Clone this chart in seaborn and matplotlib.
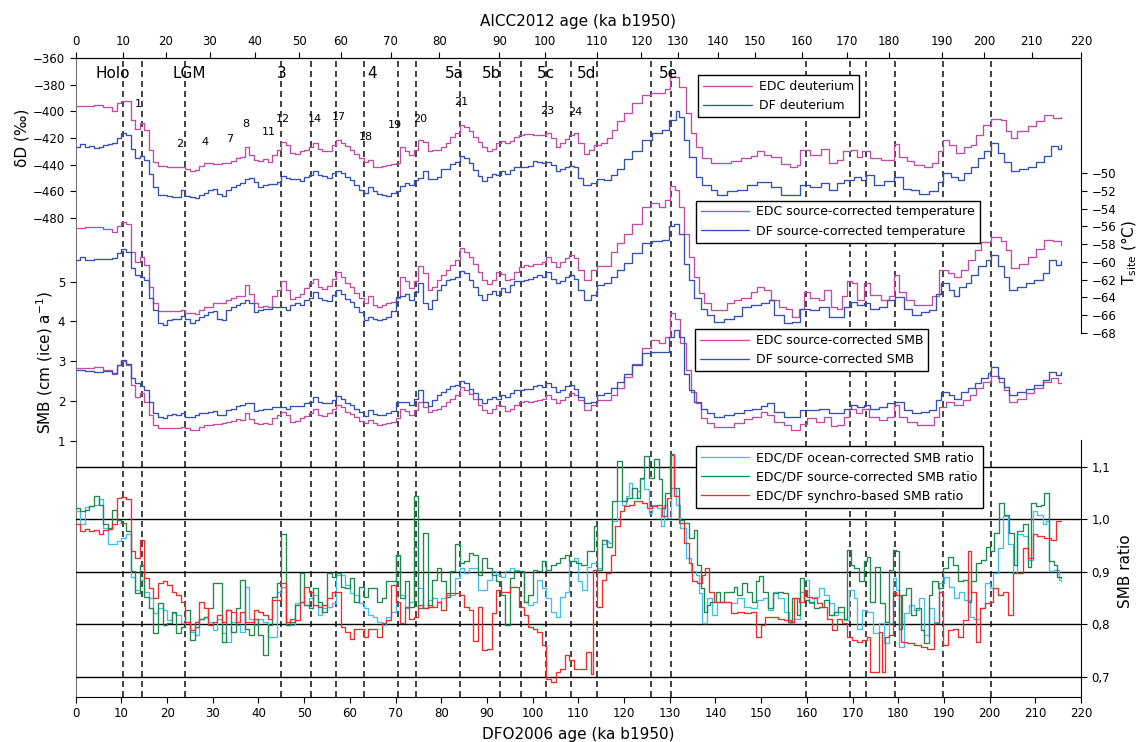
import numpy as np
import seaborn as sns
import matplotlib.pyplot as plt

# ---------------- data (ages in ka b1950, DFO2006 scale) ----------------
edc_dd_age = [0, 2, 4, 6, 8, 9, 10, 11, 12, 13, 14, 15, 16, 17, 18, 20, 22, 24, 25, 26, 27, 28, 30, 32, 34, 35, 36,
              37, 38, 39, 40, 41, 42, 43, 44, 45, 46, 47, 48, 49, 50, 51, 52, 53, 54, 55, 56, 57, 58, 59, 60,
              61, 62, 63, 64, 65, 66, 67, 68, 69, 70, 71, 72, 73, 74, 75, 76, 77, 78, 80, 81, 82, 83, 84, 85,
              86, 87, 88, 89, 90, 91, 92, 93, 94, 95, 96, 97, 98, 100, 102, 103, 104, 105, 106, 107, 108, 109,
              110, 111.2, 112.3, 113.4, 114.9, 116.3, 117.4, 118.5, 120, 121.8, 124, 126, 127.9, 129, 130, 130.9,
              132, 133.5, 134.6, 135.7, 137.1, 139, 141.1, 143.3, 145.5, 147.7, 149.2, 150.6, 152.1, 154.3, 156.4,
              157.9, 158.6, 160.8, 163, 164.8, 166.7, 168, 169.6, 171, 172.1, 173.9, 176.2, 177.9, 179, 180.2,
              182, 183.5, 185.7, 187.5, 188.6, 189.7, 191.1, 192.6, 194.5, 195.9, 197, 198.5, 200.3, 202.5,
              203.6, 204.7, 206.1, 208.3, 210.1, 212, 213.8, 215.6]
edc_dd = [-396, -396, -395.5, -396.5, -399.5, -394, -392, -392, -406.5, -413.5, -409, -414, -429, -438, -441,
          -441.5, -441.5, -443, -444.5, -444, -441, -439, -439.5, -439, -437, -435, -434,
          -427, -433, -436.5, -437, -436, -438, -433, -429, -423, -425, -431.5, -432, -430, -429, -427, -423.5,
          -428, -429.5, -429.5, -425, -421.5, -423.5, -426, -429,
          -432, -435, -438, -436.5, -441.5, -442, -441, -440, -439.5, -438.5, -427, -430, -433, -429, -421.5,
          -423, -430, -429, -426.5, -423.5, -419, -416.5, -410, -411.5,
          -415, -419, -423, -426.5, -429.5, -428, -424, -422, -424, -422, -419, -418, -417, -418, -418, -416,
          -420, -427, -424, -421, -418, -416.5,
          -424, -432, -429, -425, -423.5, -420, -414, -407.5, -401.5, -394, -388, -386, -386, -383, -374, -374,
          -381.5, -401.5, -416.5, -426.5, -435, -438.5, -438.5, -437, -435, -433.5, -430, -432.5, -434.5, -439.5,
          -441.5,
          -440, -429, -432.5, -428.5, -438.5, -436.5, -430, -429, -434.5, -430, -435, -436.5, -436.5, -424.5,
          -434.5,
          -437.5, -440, -441.5, -438.5, -430, -421.5, -425, -431.5, -426.5, -425, -417.5, -410, -406, -406.5,
          -415, -420, -414.5, -411, -407.5, -402.5, -405, -404.5]

df_dd_age = list(range(0, 111)) + [
    111, 112.7, 114.1, 115.6, 117.1, 118.5, 120, 121.8, 124, 126.2, 128.4, 129.8, 131.3, 132, 133.1, 134.2,
    135.7, 137.1, 139, 140.4, 142.6, 144.8, 147, 149.2, 150.6, 152.1, 154.3, 156.4, 158.6, 160.8, 163, 164.8,
    166.7, 168.1, 170.3, 171.8, 172.9, 174.7, 176.9, 179.1, 181, 182.8, 184.6, 186.8, 188.6, 189.7, 191.5,
    193, 194.5, 195.9, 197.4, 198.8, 200.4, 201.8, 203.2, 204.7, 206.5, 208.3, 210.1, 212, 213.4, 214.9, 215.6]
df_dd = [-426.5, -424.5, -427, -426, -427.5, -426.5, -425.5, -424.5, -424, -420,
         -416.5, -418, -428, -435, -433.5, -436.5, -447, -456.5, -463, -463,
         -463.5, -464, -464.5, -459, -463.5, -464.5, -465, -463, -461, -459,
         -458.5, -462, -463.5, -459, -457, -455, -453.5, -451, -450, -453,
         -456.5, -455, -454.5, -454.5, -453, -448.5, -450, -451, -451, -452,
         -449.5, -448, -445, -448, -448.5, -450, -446.5, -445, -446.5, -449,
         -451.5, -455, -459, -461.5, -456.5, -460, -462, -463, -463.5, -461.5,
         -460, -456, -454, -455, -451.5, -450, -445, -451, -451, -449,
         -443.5, -443, -439.5, -438, -433.5, -435, -438.5, -444, -448.5, -452,
         -449.5, -447, -448, -445, -447, -444, -442, -441.5, -442, -441,
         -437, -438, -438.5, -438, -440, -445, -443.5, -441.5, -441, -442,
         -450,
         -455, -454, -451, -451.5, -448, -443, -436, -430, -421.5, -416.5, -414, -406.5, -400, -404, -421.5,
         -434, -449, -455, -459, -463, -459.5, -459, -455, -453, -453, -456.5, -463, -463, -455, -456.5, -454,
         -459, -454, -451.5, -449.5, -451.5, -448, -455, -452, -449, -458, -459, -462, -459.5, -453, -446.5,
         -449, -451.5, -446.5, -441.5, -435, -430, -423.5, -431.5, -438, -445, -443.5, -441.5, -438, -433.5,
         -426, -428, -425]

edc_t_age = [0, 2, 4, 6, 8, 9, 10, 11, 12, 13, 14, 15, 16, 17, 18, 20, 22, 23, 24, 26, 27, 28, 30, 32, 33, 34,
             35, 36] + list(range(37, 111)) + [
    111.2, 112.7, 114.1, 115.6, 117.1, 118.5, 120, 121.8, 124, 125.8, 127.6, 129, 130.1, 131.2, 132, 133.1,
    134.2, 135.3, 136.4, 137.5, 139, 141.1, 142.6, 144.1, 145.5, 147.7, 149.2, 150.6, 152.1, 153.9, 155.4,
    156.8, 158.3, 159.4, 160.8, 162.6, 163.7, 165.2, 166.7, 167.7, 168.8, 169.9, 171, 172.5, 173.9, 176.2,
    177.9, 179, 180.2, 181.7, 183.5, 185.7, 187.5, 188.9, 190.8, 192.3, 193.7, 195.2, 196.7, 198.1, 200.3,
    202.5, 203.6, 204.7, 206.5, 208.3, 210.1, 212, 213.8, 215.6]
edc_t = [-56.2, -56.1, -56.1, -56.3, -56.6, -55.9, -55.5, -55.7, -58.9, -60.0, -59.4, -60.4, -62.8, -64.7,
         -65.6, -65.6, -65.5, -65.4, -65.8, -65.9, -65.4, -65.1, -64.7, -64.6, -64.3, -64.1, -63.9, -63.9,
         -62.6, -63.6, -64.7, -65.1, -65.0, -65.1, -63.9, -63.2, -62.2, -63.2,
         -64.2, -64.0, -63.6, -63.0, -62.4, -61.9, -62.8, -63.1, -62.7, -61.9,
         -61.1, -61.7, -62.4, -62.8, -63.5, -64.1, -64.6, -63.9, -64.9, -65.1,
         -64.9, -64.7, -64.5, -64.1, -61.7, -62.2, -63.0, -62.2, -60.5, -61.3,
         -63.2, -62.8, -62.1, -61.5, -60.9, -60.4, -59.8, -58.4, -58.9, -59.4,
         -60.2, -61.1, -62.1, -62.5, -62.0, -61.2, -61.4, -62.1, -61.9, -61.1,
         -60.6, -60.3, -60.5, -60.2, -60.2, -60.0, -59.4, -60.0, -60.6, -60.0,
         -59.6, -59.2, -59.6, -60.9,
         -62.0, -60.9, -60.5, -60.5, -58.9, -57.9, -56.8, -55.7, -53.8, -53.4, -53.8, -53.0, -51.4, -51.9,
         -53.8, -56.8, -59.4, -61.7, -63.5, -64.7, -65.4, -65.4, -64.7, -64.3, -64.1, -63.4, -62.8, -63.2,
         -64.3, -65.1, -65.3, -66.2, -65.3, -63.4, -64.1, -64.3, -63.2, -65.1, -65.3, -63.9, -62.2, -62.4,
         -64.3, -62.4, -63.7, -64.3, -63.9, -61.5, -63.4, -64.3, -64.9, -64.9, -63.9, -60.9, -61.3, -61.7,
         -60.9, -59.8, -58.7, -57.8, -57.2, -57.7, -58.7, -60.7, -60.2, -59.4, -58.5, -57.5, -57.7, -58.1]

df_t_age = [0, 1, 2, 4, 6] + list(range(8, 111)) + [
    111.2, 112.7, 114.1, 115.6, 117.1, 118.5, 120, 121.8, 124, 126.2, 128.4, 129.8, 130.9, 132, 133.1, 134.2,
    135.3, 136.8, 138.2, 139.7, 141.9, 144.1, 145.9, 147.7, 149.9, 151.7, 152.8, 155, 156.8, 158.6, 160.8,
    162.6, 164.8, 166.7, 168.1, 169.6, 171, 172.5, 173.9, 175.8, 177.6, 179.4, 181.3, 183.1, 184.9, 186.8,
    188.2, 189.3, 191.1, 192.3, 193.4, 194.8, 195.9, 197.4, 199.2, 200.4, 201.8, 203.2, 204.3, 206.1, 207.9,
    209.8, 211.6, 213.1, 214.5, 215.6]
df_t = [-59.8, -59.4, -59.8, -59.7, -59.7,
        -59.6, -59.0, -58.6, -58.9, -60.7, -61.5, -61.7, -62.1, -64.1, -65.4,
        -66.9, -67.1, -66.6, -66.4, -66.5, -66.1, -66.5, -66.9, -66.6, -66.2,
        -66.0, -65.7, -65.6, -66.5, -66.6, -65.4, -65.1, -64.9, -64.6, -64.3,
        -64.7, -65.7, -65.4, -65.3, -65.3, -65.1, -65.1, -65.1, -65.4, -64.9,
        -64.7, -64.9, -64.3, -64.1, -63.4, -64.1, -64.3, -64.4, -63.8, -63.2,
        -63.6, -64.2, -64.5, -65.1, -65.7, -66.6, -66.2, -66.4, -66.6, -66.5,
        -66.2, -65.6, -64.0, -63.9, -63.6, -64.3, -63.4, -62.4, -64.7, -65.3,
        -64.3, -63.2, -62.6, -62.1, -61.9, -61.7, -61.0, -61.3, -62.1, -62.8,
        -63.8, -64.3, -63.6, -63.3, -63.8, -63.0, -63.4, -62.6, -62.2, -62.2,
        -62.1, -61.9, -61.7, -61.5, -61.7, -61.2, -61.9, -62.4, -62.2, -61.7,
        -61.5, -61.9, -63.2,
        -64.3, -63.7, -62.6, -62.4, -61.7, -60.9, -60.1, -59.0, -57.9, -57.7, -57.5, -56.0, -55.7, -56.8,
        -60.2, -62.1, -64.1, -65.3, -66.0, -66.8, -66.5, -66.1, -65.1, -64.9, -64.7, -64.3, -66.0, -66.9,
        -66.8, -65.3, -65.4, -65.1, -66.2, -66.2, -65.1, -64.5, -64.9, -64.7, -65.3, -65.1, -64.3, -64.0,
        -65.3, -66.0, -65.7, -65.4, -63.6, -62.4, -63.2, -63.9, -62.8, -62.4, -61.5, -60.5, -59.8, -59.2,
        -60.5, -61.7, -63.2, -62.8, -62.4, -62.1, -61.3, -59.8, -60.4, -59.9]

edc_smb_age = [0, 2, 4, 6, 8, 9, 10, 11, 12, 13, 14, 15, 16, 17, 18, 20, 22, 23, 24, 25, 26, 27, 28, 30] + \
    list(range(32, 111)) + [
    111.2, 112.7, 114.1, 115.6, 117.1, 118.5, 120, 121.8, 124, 125.8, 127.6, 129, 130.1, 131.2, 132.3, 133.5,
    134.6, 135.7, 136.8, 138.2, 139.7, 141.9, 144.1, 146.3, 148.1, 149.9, 151.3, 152.8, 155, 156.5, 158.6,
    160.1, 161.9, 163.7, 165.2, 166.7, 168.1, 169.2, 170.7, 172.1, 173.6, 175.8, 177.6, 179.1, 180.2, 182,
    184.2, 186.1, 187.9, 189, 190.4, 192.3, 194.1, 195.6, 197, 198.5, 200.3, 202.1, 203.2, 204.3, 206.1,
    207.9, 209.8, 211.6, 213.4, 214.9, 215.6]
edc_smb = [2.82, 2.84, 2.86, 2.79, 2.69, 2.90, 3.01, 2.90, 2.40, 2.10, 2.19, 1.98, 1.64, 1.39, 1.31, 1.31,
           1.33, 1.34, 1.31, 1.28, 1.27, 1.35, 1.39, 1.42,
           1.44, 1.48, 1.50, 1.54, 1.52, 1.69, 1.54, 1.44, 1.42, 1.44,
           1.42, 1.56, 1.64, 1.73, 1.64, 1.48, 1.50, 1.56, 1.62, 1.69,
           1.79, 1.64, 1.62, 1.69, 1.81, 1.90, 1.84, 1.73, 1.67, 1.59,
           1.50, 1.44, 1.52, 1.44, 1.39, 1.42, 1.45, 1.48, 1.56, 1.81,
           1.75, 1.64, 1.77, 1.98, 1.85, 1.73, 1.77, 1.81, 1.87, 1.98,
           2.06, 2.15, 2.36, 2.27, 2.17, 2.06, 1.90, 1.77, 1.70, 1.79,
           1.90, 1.87, 1.75, 1.79, 1.90, 1.98, 2.00, 1.98, 2.00, 2.02,
           2.04, 2.15, 2.06, 1.94, 2.02, 2.09, 2.19, 2.15, 2.02,
           1.77, 1.90, 2.02, 2.02, 2.15, 2.32, 2.61, 2.94, 3.32, 3.53, 3.46, 3.61, 4.20, 4.07, 3.45, 2.78,
           2.23, 1.94, 1.56, 1.44, 1.35, 1.35, 1.45, 1.54, 1.60, 1.73, 1.65, 1.48, 1.39, 1.27, 1.42,
           1.56, 1.48, 1.60, 1.37, 1.39, 1.60, 1.79, 1.69, 1.81, 1.60, 1.52, 1.60, 1.90, 1.60, 1.48,
           1.39, 1.39, 1.60, 1.86, 1.98, 1.90, 2.02, 2.15, 2.32, 2.48, 2.63, 2.48, 2.27, 1.98, 2.06,
           2.21, 2.32, 2.48, 2.57, 2.44, 2.44]

df_smb_age = [0, 2, 4, 6] + list(range(8, 111)) + [
    111.2, 112.7, 114.1, 115.6, 117.1, 118.5, 120, 121.8, 124, 125.8, 128, 129.8, 130.9, 132, 133.1, 134.2,
    135.3, 136.8, 138.2, 139.7, 141.9, 144.1, 146.3, 148.1, 149.9, 151.3, 152.8, 155, 156.8, 158.6, 160.8,
    162.6, 164.8, 166.7, 168.1, 169.6, 171, 172.5, 173.9, 175.8, 177.6, 179.4, 181.3, 183.1, 184.9, 186.8,
    188.2, 189.3, 191.1, 192.3, 193.7, 195.2, 196.7, 198.1, 199.6, 200.4, 201.8, 203.2, 204.3, 206.1, 207.9,
    209.8, 211.6, 213.1, 214.5, 215.6]
df_smb = [2.77, 2.76, 2.73, 2.76,
          2.71, 2.90, 3.04, 2.93, 2.57, 2.44, 2.37, 2.27, 1.98, 1.69,
          1.59, 1.56, 1.64, 1.67, 1.64, 1.70, 1.60, 1.59, 1.64, 1.69,
          1.69, 1.73, 1.75, 1.64, 1.64, 1.77, 1.81, 1.87, 1.90, 1.94,
          1.94, 1.75, 1.77, 1.81, 1.81, 1.84, 1.85, 1.84, 1.79, 1.87,
          1.87, 1.87, 1.94, 1.98, 2.09, 1.98, 1.94, 1.94, 2.02, 2.12,
          2.04, 1.94, 1.90, 1.81, 1.73, 1.62, 1.77, 1.67, 1.64, 1.64,
          1.69, 1.75, 1.98, 1.98, 1.98, 1.90, 2.06, 2.27, 1.98, 1.87,
          2.02, 2.15, 2.23, 2.31, 2.37, 2.40, 2.51, 2.44, 2.31, 2.19,
          2.04, 1.94, 2.06, 2.10, 2.04, 2.15, 2.09, 2.19, 2.27, 2.27,
          2.29, 2.31, 2.37, 2.40, 2.36, 2.46, 2.36, 2.23, 2.27, 2.37,
          2.40, 2.31, 2.10,
          1.94, 1.98, 2.15, 2.19, 2.32, 2.48, 2.69, 2.90, 3.20, 3.24, 3.24, 3.61, 3.78, 3.61, 2.69, 2.27,
          1.98, 1.81, 1.69, 1.60, 1.65, 1.70, 1.77, 1.81, 1.87, 1.94, 1.73, 1.60, 1.60, 1.77, 1.77,
          1.81, 1.69, 1.69, 1.81, 1.90, 1.86, 1.90, 1.81, 1.84, 1.94, 1.98, 1.77, 1.69, 1.73, 1.77,
          2.02, 2.23, 2.15, 2.06, 2.23, 2.32, 2.44, 2.57, 2.71, 2.86, 2.57, 2.36, 2.15, 2.23, 2.29,
          2.40, 2.52, 2.73, 2.65, 2.73]

ocean_age = list(range(0, 111)) + [
    110.8, 111.9, 112.8, 114.1, 115.2, 116, 116.7, 117.4, 118.5, 119.6, 120.4, 121.1, 121.8, 122.9, 123.6,
    124.4, 125.4, 126.2, 127.3, 128, 128.7, 129.4, 130.2, 131.3, 132.3, 133.5, 134.6, 135.7, 136.4, 137.1,
    138.2, 139.2, 140.4, 141.9, 143.3, 144.8, 146.3, 147.7, 149.2, 150.3, 151.4, 152.5, 153.6, 155, 156.1,
    157.2, 158.6, 159.4, 160.5, 161.5, 162.6, 163.7, 164.8, 165.9, 166.9, 168.1, 169.2, 170.3, 171, 172.1,
    173.2, 174.4, 175.8, 176.9, 178, 178.8, 179.5, 180.2, 181.3, 182.4, 183.5, 184.6, 185.7, 186.8, 187.9,
    189, 190.1, 191.1, 192.3, 193.4, 194.5, 195.6, 196.6, 197.8, 198.9, 200, 200.7, 201.8, 202.9, 204,
    205.1, 206.1, 207.2, 208.3, 209.4, 210.4, 211.6, 212.3, 213.1, 214.1, 215.2, 215.7]
ocean_ratio = [1.015, 0.990, 1.023, 1.025, 1.028, 1.038, 0.983, 0.952, 0.952, 0.958,
               0.964, 0.971, 0.891, 0.866, 0.885, 0.862, 0.850, 0.821, 0.831, 0.827,
               0.808, 0.821, 0.818, 0.802, 0.805, 0.786, 0.780, 0.811, 0.815, 0.805,
               0.789, 0.811, 0.783, 0.767, 0.805, 0.799, 0.786, 0.872, 0.811, 0.799,
               0.811, 0.805, 0.776, 0.776, 0.862, 0.872, 0.799, 0.799, 0.840, 0.843,
               0.837, 0.850, 0.856, 0.818, 0.831, 0.834, 0.840, 0.894, 0.894, 0.875,
               0.859, 0.856, 0.840, 0.831, 0.818, 0.815, 0.805, 0.799, 0.815, 0.824,
               0.932, 0.856, 0.831, 0.843, 0.948, 0.869, 0.831, 0.847, 0.850, 0.843,
               0.850, 0.856, 0.856, 0.888, 0.907, 0.897, 0.907, 0.907, 0.866, 0.866,
               0.885, 0.901, 0.894, 0.891, 0.901, 0.907, 0.904, 0.901, 0.843, 0.837,
               0.843, 0.885, 0.869, 0.850, 0.824, 0.815, 0.853, 0.862, 0.920, 0.926,
               0.882,
               0.866, 0.910, 0.917, 0.907, 0.952, 0.958, 0.955, 0.996, 1.034, 1.028, 1.044, 1.069, 1.041, 1.053,
               1.076, 1.057, 1.012, 1.028, 1.022, 0.987, 1.028, 1.003, 1.060, 1.028, 0.983, 0.926, 0.901, 0.894,
               0.859, 0.802, 0.850, 0.818, 0.843, 0.843, 0.840, 0.850, 0.834, 0.831, 0.847, 0.850, 0.828, 0.862,
               0.850, 0.824, 0.802, 0.811, 0.862, 0.885, 0.840, 0.853, 0.869, 0.856, 0.840, 0.818, 0.824, 0.808,
               0.866, 0.850, 0.792, 0.827, 0.824, 0.783, 0.802, 0.764, 0.802, 0.888, 0.866, 0.757, 0.821, 0.837,
               0.827, 0.850, 0.780, 0.831, 0.805, 0.878, 0.891, 0.872, 0.850, 0.862, 0.847, 0.815, 0.811, 0.831,
               0.878, 0.869, 0.897, 0.945, 1.006, 0.952, 0.897, 0.971, 0.968, 0.923, 1.015, 1.009, 0.990, 0.996,
               0.901, 0.904, 0.885, 0.882]

source_age = list(range(0, 109)) + [
    109.4, 110.5, 111.9, 113.4, 114.1, 115.2, 116.3, 117.4, 118.5, 119.6, 120.7, 121.8, 122.9, 123.6, 124.4,
    125.4, 126.5, 127.6, 128.3, 129, 130.1, 130.9, 132, 133.1, 134.2, 135.3, 136, 136.8, 137.5, 138.2,
    138.9, 140.1, 141.1, 141.9, 143, 144.1, 144.8, 145.9, 147, 148.1, 148.8, 149.6, 150.3, 151.4, 152.5,
    153.6, 154.7, 155.8, 156.8, 157.9, 158.6, 159.4, 160.5, 161.5, 162.6, 163.7, 164.8, 165.9, 166.9, 168.1,
    168.8, 169.6, 170.3, 171.4, 172.5, 173.2, 173.9, 175, 176.1, 177.2, 178, 178.8, 179.5, 180.2, 180.9,
    181.7, 182.8, 183.9, 184.9, 185.7, 186.8, 187.5, 188.6, 189.7, 190.8, 191.9, 193, 194.1, 195.2, 195.9,
    197, 198.1, 199.2, 200, 201, 202.1, 203.2, 204.3, 205.3, 206.1, 207.2, 208.3, 209, 210.1, 211.2, 211.9,
    213.1, 214.1, 214.8, 215.7]
source_ratio = [1.022, 1.015, 1.018, 1.025, 1.044, 1.028, 0.990, 0.983, 1.018, 0.999,
                0.993, 0.977, 0.901, 0.859, 0.913, 0.853, 0.831, 0.783, 0.840, 0.799,
                0.802, 0.824, 0.783, 0.796, 0.827, 0.770, 0.796, 0.811, 0.815, 0.831,
                0.878, 0.878, 0.767, 0.827, 0.786, 0.831, 0.885, 0.792, 0.780, 0.811,
                0.780, 0.741, 0.799, 0.853, 0.878, 0.971, 0.799, 0.805, 0.837, 0.897,
                0.837, 0.831, 0.869, 0.843, 0.824, 0.897, 0.891, 0.897, 0.872, 0.869,
                0.888, 0.843, 0.872, 0.853, 0.869, 0.869, 0.843, 0.850, 0.882, 0.882,
                0.932, 0.850, 0.882, 0.834, 1.044, 0.831, 0.974, 0.834, 0.885, 0.907,
                0.882, 0.853, 0.901, 0.952, 0.917, 0.920, 0.936, 0.932, 0.894, 0.926,
                0.907, 0.894, 0.882, 0.856, 0.799, 0.888, 0.901, 0.901, 0.843, 0.856,
                0.904, 0.901, 0.920, 0.904, 0.913, 0.917, 0.926, 0.932, 0.920,
                0.917, 0.913, 0.939, 0.987, 0.904, 0.961, 0.948, 1.034, 1.111, 1.034, 1.041, 1.060, 1.041, 1.079,
                1.120, 1.079, 1.114, 1.076, 1.022, 1.050, 1.124, 1.060, 0.999, 0.993, 0.964, 0.980, 0.913, 0.869,
                0.824, 0.837, 0.843, 0.862, 0.843, 0.862, 0.862, 0.872, 0.856, 0.878, 0.862, 0.843, 0.882, 0.893,
                0.862, 0.831, 0.859, 0.862, 0.859, 0.805, 0.850, 0.818, 0.888, 0.847, 0.843, 0.831, 0.834, 0.847,
                0.818, 0.824, 0.834, 0.811, 0.942, 0.913, 0.907, 0.882, 0.920, 0.929, 0.843, 0.910, 0.840, 0.805,
                0.904, 0.942, 0.939, 0.792, 0.856, 0.869, 0.818, 0.831, 0.789, 0.764, 0.856, 0.882, 0.869, 0.907,
                0.929, 0.913, 0.882, 0.885, 0.843, 0.882, 0.917, 0.923, 0.948, 0.939, 0.974, 1.031, 1.009, 0.974,
                0.913, 0.977, 0.990, 0.910, 1.031, 1.025, 1.028, 1.050, 0.920, 0.913, 0.891, 0.888]

synchro_age = list(range(0, 110)) + [
    110.5, 111.6, 112.7, 113.2, 114.1, 115.2, 116, 117.1, 118.1, 119.1, 119.9, 121.1, 122.1, 123.2, 123.9,
    125, 126.2, 127.3, 128.3, 129.5, 130.2, 130.9, 132, 133.1, 134.2, 134.9, 136, 137.1, 137.8, 138.6,
    139.7, 141.1, 142.2, 143.3, 144.8, 146.3, 147.7, 148.8, 149.9, 150.9, 152.1, 153.6, 155, 156.5, 157.2,
    158.3, 159.4, 160.1, 161.2, 162.3, 163.3, 164.5, 165.6, 166.7, 167.7, 168.8, 169.9, 171, 172.1, 173.2,
    173.9, 175, 175.8, 176.5, 177.2, 178, 178.8, 179.5, 180.6, 182, 183.5, 184.9, 186.4, 187.9, 189, 189.9,
    190.8, 191.9, 193, 194.1, 195.2, 195.9, 197, 197.8, 198.9, 200, 200.7, 201.8, 202.9, 204, 205.1, 206.1,
    207.2, 208.3, 209.4, 210.4, 211.9, 213.4, 214.5, 215.6]
synchro_ratio = [0.990, 0.978, 0.982, 0.978, 0.980, 0.971, 0.980, 0.982, 0.990, 1.041,
                 1.042, 1.038, 0.939, 0.926, 0.961, 0.888, 0.869, 0.850, 0.878, 0.882,
                 0.875, 0.862, 0.856, 0.843, 0.805, 0.789, 0.805, 0.843, 0.831, 0.799,
                 0.805, 0.818, 0.805, 0.827, 0.824, 0.805, 0.824, 0.805, 0.805, 0.827,
                 0.824, 0.818, 0.811, 0.847, 0.847, 0.878, 0.805, 0.811, 0.808, 0.843,
                 0.872, 0.862, 0.837, 0.834, 0.837, 0.850, 0.862, 0.862, 0.796, 0.786,
                 0.773, 0.792, 0.792, 0.776, 0.792, 0.792, 0.776, 0.802, 0.808, 0.875,
                 0.843, 0.802, 0.834, 0.811, 0.815, 0.837, 0.831, 0.837, 0.834, 0.843,
                 0.827, 0.859, 0.859, 0.859, 0.856, 0.834, 0.827, 0.768, 0.834, 0.751,
                 0.754, 0.821, 0.866, 0.862, 0.862, 0.872, 0.872, 0.834, 0.818, 0.796,
                 0.792, 0.786, 0.760, 0.697, 0.690, 0.710, 0.716, 0.741, 0.732, 0.716,
                 0.716, 0.748, 0.706, 0.904, 0.834, 0.885, 0.897, 0.932, 0.987, 1.015, 1.025, 1.028, 1.034, 1.034,
                 1.031, 1.022, 1.025, 1.028, 1.006, 1.041, 1.122, 1.044, 0.993, 0.955, 0.917, 0.882, 0.878, 0.894,
                 0.907, 0.862, 0.843, 0.843, 0.843, 0.821, 0.824, 0.821, 0.824, 0.776, 0.799, 0.815, 0.815, 0.811,
                 0.808, 0.805, 0.850, 0.843, 0.866, 0.853, 0.850, 0.840, 0.834, 0.811, 0.789, 0.811, 0.802, 0.776,
                 0.770, 0.767, 0.770, 0.776, 0.710, 0.710, 0.786, 0.710, 0.776, 0.780, 0.862, 0.856, 0.767, 0.764,
                 0.760, 0.757, 0.754, 0.802, 0.862, 0.760, 0.789, 0.792, 0.776, 0.808, 0.939, 0.862, 0.767, 0.831,
                 0.840, 0.843, 0.869, 0.856, 0.862, 0.818, 0.897, 0.897, 0.945, 0.926, 0.971, 0.968, 0.964, 0.961,
                 0.996, 0.996]

# climatic periods, DO events and dashed event lines
event_age = [10.4, 14.45, 23.9, 45.0, 51.5, 56.95, 63.0, 70.45, 74.5, 84.0, 92.8, 97.5, 102.95, 108.4,
             114.0, 126.0, 130.3, 159.9, 169.4, 172.9, 179.4, 189.8, 200.35]
stage_labels = ['Holo', 'LGM', '3', '4', '5a', '5b', '5c', '5d', '5e']
stage_age = [8.0, 24.9, 45.0, 64.8, 82.9, 90.9, 102.9, 111.7, 129.7]
do_labels = ['1', '2', '4', '7', '8', '11', '12', '14', '17', '18', '19', '20', '21', '23', '24']
do_age = [13.6, 22.8, 28.3, 33.8, 37.3, 42.3, 45.4, 52.4, 57.5, 63.6, 69.9, 75.4, 84.4, 103.2, 109.4]
do_dd = [-394.5, -424.5, -423, -420.8, -409.5, -415.5, -405.8, -405.8, -404.3, -419.3, -410.3, -405.8,
         -393, -399.8, -400.5]

# top axis: AICC2012 ages and where they fall on the DFO2006 axis
aicc_labels = [str(v) for v in range(0, 221, 10)]
aicc_pos = [0, 10.3, 19.7, 29.4, 39.3, 48.9, 58.0, 68.9, 79.6, 92.7, 102.6, 114.1, 123.8, 131.7, 140.5,
            148.6, 159.0, 168.7, 177.9, 189.5, 198.8, 209.2, 220]

dd_ticks = [-480, -460, -440, -420, -400, -380, -360]
t_ticks = [-68, -66, -64, -62, -60, -58, -56, -54, -52, -50]
smb_ticks = [1, 2, 3, 4, 5]
ratio_ticks = [0.7, 0.8, 0.9, 1.0, 1.1]
ratio_ticklabels = ['0,7', '0,8', '0,9', '1,0', '1,1']

# ---------------- style ----------------
sns.set_style('ticks')
plt.rcParams.update({
    'font.family': ['DejaVu Sans'],
    'axes.edgecolor': 'black', 'text.color': 'black', 'axes.labelcolor': 'black',
    'xtick.color': 'black', 'ytick.color': 'black',
    'xtick.major.size': 4, 'ytick.major.size': 4,
    'xtick.labelsize': 8.5, 'ytick.labelsize': 8.5,
})

C_EDC = '#c24ca2'
C_DF = '#3550b3'
C_OCEAN = '#3fc0ef'
C_SOURCE = '#1b8a4a'
C_SYNC = '#f02c2c'

W, H = 1137, 742
fig = plt.figure(figsize=(W / 100, H / 100), dpi=100)
L, R, T, B = 75.7, 1081, 58, 697
ax = fig.add_axes([L / W, 1 - B / H, (R - L) / W, (B - T) / H])
axT = ax.twinx()
axS = ax.twinx()
axR = ax.twinx()


def step(axis, x, y, color):
    sns.lineplot(x=x, y=y, ax=axis, color=color, lw=0.95, drawstyle='steps-post',
                 errorbar=None, legend=False)
    return axis.get_lines()[-1]


# event lines first so curves sit over them
for a in event_age:
    ax.axvline(a, color='#222222', lw=1.2, dashes=(3.6, 2.4), zorder=1)

h_edc_dd = step(ax, edc_dd_age, edc_dd, C_EDC)
h_df_dd = step(ax, df_dd_age, df_dd, C_DF)
h_edc_t = step(axT, edc_t_age, edc_t, C_EDC)
h_df_t = step(axT, df_t_age, df_t, C_DF)
h_edc_s = step(axS, edc_smb_age, edc_smb, C_EDC)
h_df_s = step(axS, df_smb_age, df_smb, C_DF)
for v in ratio_ticks:
    axR.axhline(v, color='black', lw=1.0, zorder=1)
h_oc = step(axR, ocean_age, ocean_ratio, C_OCEAN)
h_so = step(axR, source_age, source_ratio, C_SOURCE)
h_sy = step(axR, synchro_age, synchro_ratio, C_SYNC)

# ---------------- axes ----------------
ax.set_xlim(0, 220)
ax.set_xticks(range(0, 221, 10))
ax.set_ylim(-839.25, -360)
ax.set_yticks(dd_ticks)
ax.set_xlabel('DFO2006 age (ka b1950)', fontsize=11, labelpad=5)
ax.set_ylabel('')
ax.spines['right'].set_visible(False)
ax.spines['left'].set_color('0.45')

sec = ax.secondary_xaxis('top')
sec.set_xticks(aicc_pos, labels=aicc_labels)
sec.tick_params(direction='out', length=4, labelsize=8.5)
sec.set_xlabel('AICC2012 age (ka b1950)', fontsize=11, labelpad=6)

axT.set_ylim(-109.14, -36.98)
axT.set_yticks(t_ticks)
axT.set_ylabel('')
for s in ['left', 'top', 'bottom']:
    axT.spines[s].set_visible(False)
axT.spines['right'].set_bounds(-68, -36.98)

axS.set_ylim(-5.44, 10.62)
axS.set_yticks(smb_ticks)
axS.yaxis.tick_left()
axS.set_ylabel('')
for s in axS.spines.values():
    s.set_visible(False)

axR.set_ylim(0.662, 1.877)
axR.set_yticks(ratio_ticks, labels=ratio_ticklabels)
axR.set_ylabel('')
for s in ['left', 'top', 'bottom']:
    axR.spines[s].set_visible(False)
axR.spines['right'].set_bounds(0.662, 1.151)

# y labels placed at the reference positions
fig.text(22 / W, 1 - 138 / H, 'δD (‰)', rotation=90, ha='center', va='center', fontsize=11)
fig.text(45 / W, 1 - 362 / H, 'SMB (cm (ice) a$^{-1}$)', rotation=90, ha='center', va='center', fontsize=11)
fig.text(1129 / W, 1 - 253 / H, 'T$_{\\mathrm{site}}$ (°C)', rotation=90, ha='center', va='center',
         fontsize=11)
fig.text(1125 / W, 1 - 571 / H, 'SMB ratio', rotation=90, ha='center', va='center', fontsize=11)

# period names and DO numbers
for lab, a in zip(stage_labels, stage_age):
    ax.text(a, -372, lab, ha='center', va='center', fontsize=11)
for lab, a, d in zip(do_labels, do_age, do_dd):
    ax.text(a, d, lab, ha='center', va='center', fontsize=8)


def legend(handles, labels, x, y):
    leg = fig.legend(handles, labels, loc='upper left', bbox_to_anchor=(x / W, 1 - y / H),
                     bbox_transform=fig.transFigure, borderaxespad=0, frameon=True, fancybox=False,
                     edgecolor='black', framealpha=1, fontsize=9, handlelength=3.9, handletextpad=0.55)
    leg.get_frame().set_linewidth(1.0)
    return leg


legend([h_edc_dd, h_df_dd], ['EDC deuterium', 'DF deuterium'], 698, 75)
legend([h_edc_t, h_df_t], ['EDC source-corrected temperature', 'DF source-corrected temperature'], 695.5, 200.5)
legend([h_edc_s, h_df_s], ['EDC source-corrected SMB', 'DF source-corrected SMB'], 695, 329)
legend([h_oc, h_so, h_sy], ['EDC/DF ocean-corrected SMB ratio', 'EDC/DF source-corrected SMB ratio',
                            'EDC/DF synchro-based SMB ratio'], 695.5, 446)

fig.savefig('out.png', dpi=100)
